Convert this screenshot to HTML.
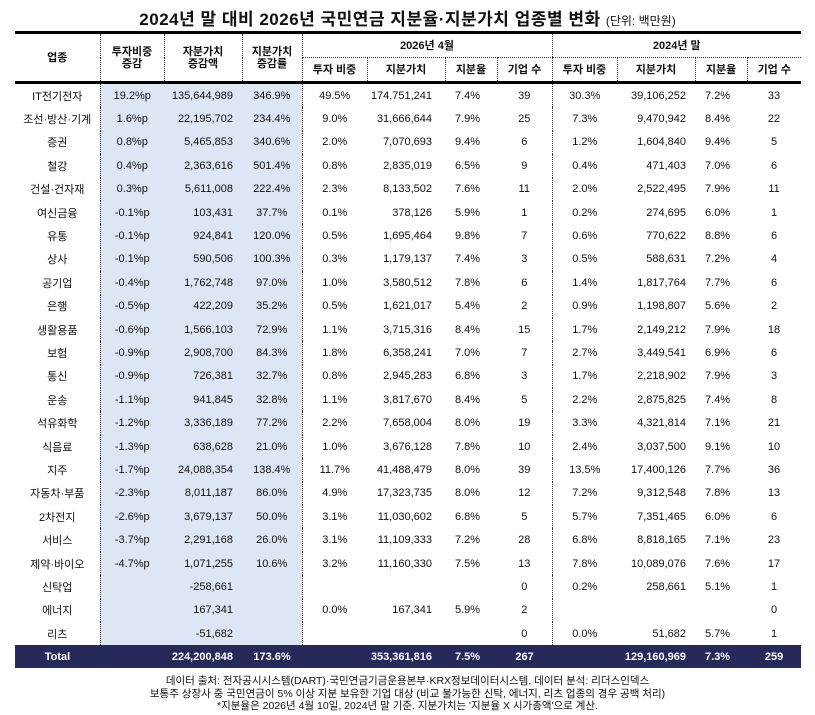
<!DOCTYPE html>
<html><head><meta charset="utf-8"><style>
body{margin:0;width:815px;height:715px;background:#fff;font-family:"Liberation Sans","Noto Sans CJK KR",sans-serif;color:#111;position:relative;overflow:hidden}
.title{position:absolute;top:5px;left:0;width:815px;text-align:center;font-size:17px;font-weight:bold;letter-spacing:0.5px}
.title span{font-size:12px;font-weight:normal;letter-spacing:0}
table{position:absolute;left:15px;top:31px;border-collapse:collapse;table-layout:fixed;width:786px;font-size:11px}
th{font-weight:bold;font-size:11px;height:23px;padding:0;text-align:center;border-left:1px dotted #333;line-height:12px}
th.f{border-left:none}
thead tr:first-child th{border-top:3px solid #000}
thead tr:last-child th,th.r2{border-bottom:3px solid #000}
th.sub{border-bottom:1px dotted #333}
td{height:23.4px;padding:0;text-align:center;white-space:nowrap}
td.b{background:#dde6f5}
td.r{text-align:right;padding-right:9px}
td.r2{text-align:right;padding-right:13px}
td.l{text-align:left;padding-left:10px}
.d1{border-left:1px dotted #333}
tr.tot td{background:#262a5b;color:#fff;font-weight:bold;height:23px}
.foot{position:absolute;top:675px;left:0;width:815px;text-align:center;font-size:10.5px;line-height:12.5px}
</style></head><body>
<div class="title">2024년 말 대비 2026년 국민연금 지분율·지분가치 업종별 변화 <span>(단위: 백만원)</span></div>
<table>
<colgroup><col style="width:85px"><col style="width:64px"><col style="width:78px"><col style="width:60px"><col style="width:65px"><col style="width:78px"><col style="width:52px"><col style="width:55px"><col style="width:65px"><col style="width:78px"><col style="width:52px"><col style="width:54px"></colgroup>
<thead>
<tr><th class="f r2" rowspan="2">업종</th><th class="r2" rowspan="2">투자비중<br>증감</th><th class="r2" rowspan="2">자분가치<br>증감액</th><th class="r2" rowspan="2">지분가치<br>증감률</th><th class="sub" colspan="4">2026년 4월</th><th class="sub" colspan="4">2024년 말</th></tr>
<tr><th>투자 비중</th><th>지분가치</th><th>지분율</th><th>기업 수</th><th>투자 비중</th><th>지분가치</th><th>지분율</th><th>기업 수</th></tr>
</thead>
<tbody>
<tr><td>IT전기전자</td><td class="b d1">19.2%p</td><td class="b r">135,644,989</td><td class="b">346.9%</td><td class="d1">49.5%</td><td class="r2">174,751,241</td><td class="l">7.4%</td><td>39</td><td class="d1">30.3%</td><td class="r">39,106,252</td><td class="l">7.2%</td><td>33</td></tr>
<tr><td>조선·방산·기계</td><td class="b d1">1.6%p</td><td class="b r">22,195,702</td><td class="b">234.4%</td><td class="d1">9.0%</td><td class="r2">31,666,644</td><td class="l">7.9%</td><td>25</td><td class="d1">7.3%</td><td class="r">9,470,942</td><td class="l">8.4%</td><td>22</td></tr>
<tr><td>증권</td><td class="b d1">0.8%p</td><td class="b r">5,465,853</td><td class="b">340.6%</td><td class="d1">2.0%</td><td class="r2">7,070,693</td><td class="l">9.4%</td><td>6</td><td class="d1">1.2%</td><td class="r">1,604,840</td><td class="l">9.4%</td><td>5</td></tr>
<tr><td>철강</td><td class="b d1">0.4%p</td><td class="b r">2,363,616</td><td class="b">501.4%</td><td class="d1">0.8%</td><td class="r2">2,835,019</td><td class="l">6.5%</td><td>9</td><td class="d1">0.4%</td><td class="r">471,403</td><td class="l">7.0%</td><td>6</td></tr>
<tr><td>건설·건자재</td><td class="b d1">0.3%p</td><td class="b r">5,611,008</td><td class="b">222.4%</td><td class="d1">2.3%</td><td class="r2">8,133,502</td><td class="l">7.6%</td><td>11</td><td class="d1">2.0%</td><td class="r">2,522,495</td><td class="l">7.9%</td><td>11</td></tr>
<tr><td>여신금융</td><td class="b d1">-0.1%p</td><td class="b r">103,431</td><td class="b">37.7%</td><td class="d1">0.1%</td><td class="r2">378,126</td><td class="l">5.9%</td><td>1</td><td class="d1">0.2%</td><td class="r">274,695</td><td class="l">6.0%</td><td>1</td></tr>
<tr><td>유통</td><td class="b d1">-0.1%p</td><td class="b r">924,841</td><td class="b">120.0%</td><td class="d1">0.5%</td><td class="r2">1,695,464</td><td class="l">9.8%</td><td>7</td><td class="d1">0.6%</td><td class="r">770,622</td><td class="l">8.8%</td><td>6</td></tr>
<tr><td>상사</td><td class="b d1">-0.1%p</td><td class="b r">590,506</td><td class="b">100.3%</td><td class="d1">0.3%</td><td class="r2">1,179,137</td><td class="l">7.4%</td><td>3</td><td class="d1">0.5%</td><td class="r">588,631</td><td class="l">7.2%</td><td>4</td></tr>
<tr><td>공기업</td><td class="b d1">-0.4%p</td><td class="b r">1,762,748</td><td class="b">97.0%</td><td class="d1">1.0%</td><td class="r2">3,580,512</td><td class="l">7.8%</td><td>6</td><td class="d1">1.4%</td><td class="r">1,817,764</td><td class="l">7.7%</td><td>6</td></tr>
<tr><td>은행</td><td class="b d1">-0.5%p</td><td class="b r">422,209</td><td class="b">35.2%</td><td class="d1">0.5%</td><td class="r2">1,621,017</td><td class="l">5.4%</td><td>2</td><td class="d1">0.9%</td><td class="r">1,198,807</td><td class="l">5.6%</td><td>2</td></tr>
<tr><td>생활용품</td><td class="b d1">-0.6%p</td><td class="b r">1,566,103</td><td class="b">72.9%</td><td class="d1">1.1%</td><td class="r2">3,715,316</td><td class="l">8.4%</td><td>15</td><td class="d1">1.7%</td><td class="r">2,149,212</td><td class="l">7.9%</td><td>18</td></tr>
<tr><td>보험</td><td class="b d1">-0.9%p</td><td class="b r">2,908,700</td><td class="b">84.3%</td><td class="d1">1.8%</td><td class="r2">6,358,241</td><td class="l">7.0%</td><td>7</td><td class="d1">2.7%</td><td class="r">3,449,541</td><td class="l">6.9%</td><td>6</td></tr>
<tr><td>통신</td><td class="b d1">-0.9%p</td><td class="b r">726,381</td><td class="b">32.7%</td><td class="d1">0.8%</td><td class="r2">2,945,283</td><td class="l">6.8%</td><td>3</td><td class="d1">1.7%</td><td class="r">2,218,902</td><td class="l">7.9%</td><td>3</td></tr>
<tr><td>운송</td><td class="b d1">-1.1%p</td><td class="b r">941,845</td><td class="b">32.8%</td><td class="d1">1.1%</td><td class="r2">3,817,670</td><td class="l">8.4%</td><td>5</td><td class="d1">2.2%</td><td class="r">2,875,825</td><td class="l">7.4%</td><td>8</td></tr>
<tr><td>석유화학</td><td class="b d1">-1.2%p</td><td class="b r">3,336,189</td><td class="b">77.2%</td><td class="d1">2.2%</td><td class="r2">7,658,004</td><td class="l">8.0%</td><td>19</td><td class="d1">3.3%</td><td class="r">4,321,814</td><td class="l">7.1%</td><td>21</td></tr>
<tr><td>식음료</td><td class="b d1">-1.3%p</td><td class="b r">638,628</td><td class="b">21.0%</td><td class="d1">1.0%</td><td class="r2">3,676,128</td><td class="l">7.8%</td><td>10</td><td class="d1">2.4%</td><td class="r">3,037,500</td><td class="l">9.1%</td><td>10</td></tr>
<tr><td>지주</td><td class="b d1">-1.7%p</td><td class="b r">24,088,354</td><td class="b">138.4%</td><td class="d1">11.7%</td><td class="r2">41,488,479</td><td class="l">8.0%</td><td>39</td><td class="d1">13.5%</td><td class="r">17,400,126</td><td class="l">7.7%</td><td>36</td></tr>
<tr><td>자동차·부품</td><td class="b d1">-2.3%p</td><td class="b r">8,011,187</td><td class="b">86.0%</td><td class="d1">4.9%</td><td class="r2">17,323,735</td><td class="l">8.0%</td><td>12</td><td class="d1">7.2%</td><td class="r">9,312,548</td><td class="l">7.8%</td><td>13</td></tr>
<tr><td>2차전지</td><td class="b d1">-2.6%p</td><td class="b r">3,679,137</td><td class="b">50.0%</td><td class="d1">3.1%</td><td class="r2">11,030,602</td><td class="l">6.8%</td><td>5</td><td class="d1">5.7%</td><td class="r">7,351,465</td><td class="l">6.0%</td><td>6</td></tr>
<tr><td>서비스</td><td class="b d1">-3.7%p</td><td class="b r">2,291,168</td><td class="b">26.0%</td><td class="d1">3.1%</td><td class="r2">11,109,333</td><td class="l">7.2%</td><td>28</td><td class="d1">6.8%</td><td class="r">8,818,165</td><td class="l">7.1%</td><td>23</td></tr>
<tr><td>제약·바이오</td><td class="b d1">-4.7%p</td><td class="b r">1,071,255</td><td class="b">10.6%</td><td class="d1">3.2%</td><td class="r2">11,160,330</td><td class="l">7.5%</td><td>13</td><td class="d1">7.8%</td><td class="r">10,089,076</td><td class="l">7.6%</td><td>17</td></tr>
<tr><td>신탁업</td><td class="b d1"></td><td class="b r">-258,661</td><td class="b"></td><td class="d1"></td><td class="r2"></td><td class="l"></td><td>0</td><td class="d1">0.2%</td><td class="r">258,661</td><td class="l">5.1%</td><td>1</td></tr>
<tr><td>에너지</td><td class="b d1"></td><td class="b r">167,341</td><td class="b"></td><td class="d1">0.0%</td><td class="r2">167,341</td><td class="l">5.9%</td><td>2</td><td class="d1"></td><td class="r"></td><td class="l"></td><td>0</td></tr>
<tr><td>리츠</td><td class="b d1"></td><td class="b r">-51,682</td><td class="b"></td><td class="d1"></td><td class="r2"></td><td class="l"></td><td>0</td><td class="d1">0.0%</td><td class="r">51,682</td><td class="l">5.7%</td><td>1</td></tr>
<tr class="tot"><td>Total</td><td></td><td class="r">224,200,848</td><td>173.6%</td><td></td><td class="r2">353,361,816</td><td class="l">7.5%</td><td>267</td><td></td><td class="r">129,160,969</td><td class="l">7.3%</td><td>259</td></tr>
</tbody></table>
<div class="foot">데이터 출처: 전자공시시스템(DART)·국민연금기금운용본부·KRX정보데이터시스템, 데이터 분석: 리더스인덱스<br>보통주 상장사 중 국민연금이 5% 이상 지분 보유한 기업 대상 (비교 불가능한 신탁, 에너지, 리츠 업종의 경우 공백 처리)<br>*지분율은 2026년 4월 10일, 2024년 말 기준. 지분가치는 '지분율 X 시가총액'으로 계산.</div>
</body></html>
